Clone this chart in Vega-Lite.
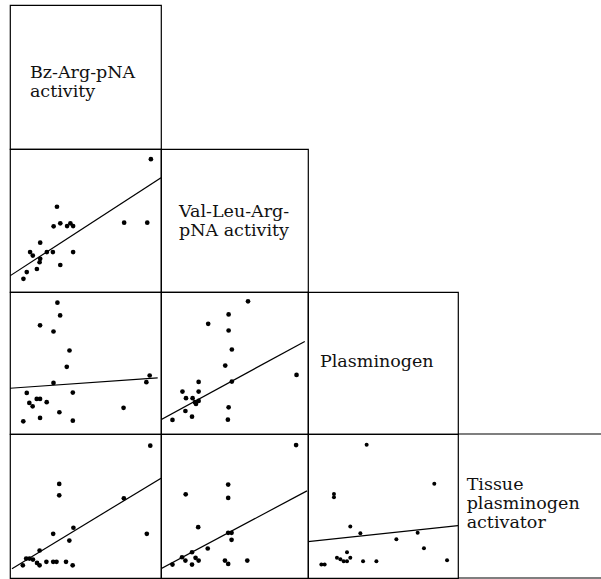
{
  "$schema": "https://vega.github.io/schema/vega-lite/v6.json",
  "padding": {"left": 9, "top": 4, "right": 0, "bottom": 0},
  "background": "white",
  "columns": 4,
  "spacing": 0,
  "bounds": "flush",
  "align": "each",
  "config": {
    "view": {"stroke": "black", "strokeWidth": 1.2},
    "circle": {"size": 22, "color": "black", "opacity": 1},
    "text": {"font": "DejaVu Serif", "fontSize": 17.5, "lineHeight": 19, "align": "left", "baseline": "alphabetic", "color": "#111", "lineBreak": "\n"}
  },
  "datasets": {
    "cell": [{}],
    "points": [
      {"panel": "bz_val", "x": 93.3, "y": 92.9},
      {"panel": "bz_val", "x": 31.1, "y": 59.6},
      {"panel": "bz_val", "x": 28.9, "y": 45.9},
      {"panel": "bz_val", "x": 33.3, "y": 48.0},
      {"panel": "bz_val", "x": 37.8, "y": 46.1},
      {"panel": "bz_val", "x": 40.0, "y": 48.0},
      {"panel": "bz_val", "x": 41.8, "y": 46.1},
      {"panel": "bz_val", "x": 75.6, "y": 48.5},
      {"panel": "bz_val", "x": 90.9, "y": 48.5},
      {"panel": "bz_val", "x": 20.0, "y": 34.5},
      {"panel": "bz_val", "x": 13.3, "y": 27.9},
      {"panel": "bz_val", "x": 15.1, "y": 25.5},
      {"panel": "bz_val", "x": 24.4, "y": 27.9},
      {"panel": "bz_val", "x": 28.4, "y": 27.9},
      {"panel": "bz_val", "x": 41.8, "y": 27.9},
      {"panel": "bz_val", "x": 20.0, "y": 23.2},
      {"panel": "bz_val", "x": 19.6, "y": 20.8},
      {"panel": "bz_val", "x": 33.3, "y": 18.9},
      {"panel": "bz_val", "x": 17.8, "y": 16.1},
      {"panel": "bz_val", "x": 11.1, "y": 13.9},
      {"panel": "bz_val", "x": 8.9, "y": 9.2},

      {"panel": "bz_plg", "x": 31.4, "y": 92.5},
      {"panel": "bz_plg", "x": 33.2, "y": 83.5},
      {"panel": "bz_plg", "x": 19.9, "y": 76.5},
      {"panel": "bz_plg", "x": 28.8, "y": 72.2},
      {"panel": "bz_plg", "x": 39.4, "y": 58.8},
      {"panel": "bz_plg", "x": 37.6, "y": 47.3},
      {"panel": "bz_plg", "x": 28.8, "y": 36.0},
      {"panel": "bz_plg", "x": 92.5, "y": 41.2},
      {"panel": "bz_plg", "x": 90.3, "y": 36.5},
      {"panel": "bz_plg", "x": 11.1, "y": 28.9},
      {"panel": "bz_plg", "x": 41.6, "y": 29.2},
      {"panel": "bz_plg", "x": 17.7, "y": 24.7},
      {"panel": "bz_plg", "x": 19.9, "y": 24.7},
      {"panel": "bz_plg", "x": 12.8, "y": 21.9},
      {"panel": "bz_plg", "x": 15.0, "y": 19.5},
      {"panel": "bz_plg", "x": 24.3, "y": 22.4},
      {"panel": "bz_plg", "x": 75.2, "y": 18.4},
      {"panel": "bz_plg", "x": 32.7, "y": 15.3},
      {"panel": "bz_plg", "x": 19.9, "y": 11.3},
      {"panel": "bz_plg", "x": 8.8, "y": 8.9},
      {"panel": "bz_plg", "x": 41.6, "y": 9.4},

      {"panel": "val_plg", "x": 59.2, "y": 93.4},
      {"panel": "val_plg", "x": 46.0, "y": 84.2},
      {"panel": "val_plg", "x": 32.1, "y": 77.6},
      {"panel": "val_plg", "x": 46.0, "y": 72.9},
      {"panel": "val_plg", "x": 48.2, "y": 59.5},
      {"panel": "val_plg", "x": 43.7, "y": 48.2},
      {"panel": "val_plg", "x": 48.2, "y": 36.9},
      {"panel": "val_plg", "x": 92.2, "y": 41.6},
      {"panel": "val_plg", "x": 25.6, "y": 36.7},
      {"panel": "val_plg", "x": 14.6, "y": 29.9},
      {"panel": "val_plg", "x": 25.6, "y": 29.9},
      {"panel": "val_plg", "x": 17.0, "y": 25.2},
      {"panel": "val_plg", "x": 21.5, "y": 25.2},
      {"panel": "val_plg", "x": 25.6, "y": 23.3},
      {"panel": "val_plg", "x": 23.8, "y": 21.2},
      {"panel": "val_plg", "x": 23.1, "y": 22.4},
      {"panel": "val_plg", "x": 16.6, "y": 16.2},
      {"panel": "val_plg", "x": 46.0, "y": 18.8},
      {"panel": "val_plg", "x": 21.1, "y": 12.2},
      {"panel": "val_plg", "x": 7.8, "y": 9.9},
      {"panel": "val_plg", "x": 45.5, "y": 10.1},

      {"panel": "bz_tpa", "x": 92.9, "y": 91.9},
      {"panel": "bz_tpa", "x": 32.6, "y": 65.3},
      {"panel": "bz_tpa", "x": 32.6, "y": 57.4},
      {"panel": "bz_tpa", "x": 75.4, "y": 55.3},
      {"panel": "bz_tpa", "x": 28.6, "y": 30.7},
      {"panel": "bz_tpa", "x": 42.0, "y": 34.9},
      {"panel": "bz_tpa", "x": 39.3, "y": 26.0},
      {"panel": "bz_tpa", "x": 90.6, "y": 30.7},
      {"panel": "bz_tpa", "x": 19.6, "y": 19.1},
      {"panel": "bz_tpa", "x": 10.7, "y": 13.5},
      {"panel": "bz_tpa", "x": 12.9, "y": 13.5},
      {"panel": "bz_tpa", "x": 15.2, "y": 12.8},
      {"panel": "bz_tpa", "x": 17.9, "y": 10.5},
      {"panel": "bz_tpa", "x": 19.6, "y": 8.8},
      {"panel": "bz_tpa", "x": 8.5, "y": 8.8},
      {"panel": "bz_tpa", "x": 24.1, "y": 11.2},
      {"panel": "bz_tpa", "x": 28.6, "y": 11.2},
      {"panel": "bz_tpa", "x": 30.8, "y": 11.2},
      {"panel": "bz_tpa", "x": 37.1, "y": 11.2},
      {"panel": "bz_tpa", "x": 41.5, "y": 8.8},

      {"panel": "val_tpa", "x": 91.9, "y": 92.3},
      {"panel": "val_tpa", "x": 45.7, "y": 64.9},
      {"panel": "val_tpa", "x": 45.7, "y": 55.6},
      {"panel": "val_tpa", "x": 16.8, "y": 58.1},
      {"panel": "val_tpa", "x": 25.3, "y": 35.3},
      {"panel": "val_tpa", "x": 45.7, "y": 31.4},
      {"panel": "val_tpa", "x": 48.0, "y": 31.4},
      {"panel": "val_tpa", "x": 48.0, "y": 26.5},
      {"panel": "val_tpa", "x": 31.8, "y": 20.5},
      {"panel": "val_tpa", "x": 21.1, "y": 17.9},
      {"panel": "val_tpa", "x": 14.3, "y": 14.4},
      {"panel": "val_tpa", "x": 16.6, "y": 12.1},
      {"panel": "val_tpa", "x": 23.5, "y": 14.0},
      {"panel": "val_tpa", "x": 25.6, "y": 12.1},
      {"panel": "val_tpa", "x": 21.1, "y": 9.3},
      {"panel": "val_tpa", "x": 7.8, "y": 9.3},
      {"panel": "val_tpa", "x": 43.5, "y": 12.1},
      {"panel": "val_tpa", "x": 45.7, "y": 9.8},
      {"panel": "val_tpa", "x": 58.7, "y": 12.1},

      {"panel": "plg_tpa", "x": 39.1, "y": 92.5},
      {"panel": "plg_tpa", "x": 84.2, "y": 65.4},
      {"panel": "plg_tpa", "x": 17.3, "y": 58.4},
      {"panel": "plg_tpa", "x": 17.3, "y": 56.1},
      {"panel": "plg_tpa", "x": 28.2, "y": 35.7},
      {"panel": "plg_tpa", "x": 34.9, "y": 31.1},
      {"panel": "plg_tpa", "x": 73.1, "y": 31.5},
      {"panel": "plg_tpa", "x": 58.9, "y": 26.9},
      {"panel": "plg_tpa", "x": 77.3, "y": 20.6},
      {"panel": "plg_tpa", "x": 26.0, "y": 17.8},
      {"panel": "plg_tpa", "x": 19.3, "y": 14.0},
      {"panel": "plg_tpa", "x": 21.6, "y": 13.1},
      {"panel": "plg_tpa", "x": 26.0, "y": 11.7},
      {"panel": "plg_tpa", "x": 28.2, "y": 14.0},
      {"panel": "plg_tpa", "x": 23.8, "y": 11.7},
      {"panel": "plg_tpa", "x": 36.7, "y": 11.7},
      {"panel": "plg_tpa", "x": 45.6, "y": 11.7},
      {"panel": "plg_tpa", "x": 92.7, "y": 12.4},
      {"panel": "plg_tpa", "x": 8.9, "y": 9.3},
      {"panel": "plg_tpa", "x": 11.1, "y": 9.3}
    ],
    "fits": [
      {"panel": "bz_val", "x": 0, "y": 11.3},
      {"panel": "bz_val", "x": 100, "y": 79.9},
      {"panel": "bz_plg", "x": 0, "y": 32.2},
      {"panel": "bz_plg", "x": 97.8, "y": 39.5},
      {"panel": "val_plg", "x": 0, "y": 10.1},
      {"panel": "val_plg", "x": 97.8, "y": 65.2},
      {"panel": "bz_tpa", "x": 1.3, "y": 6.5},
      {"panel": "bz_tpa", "x": 100, "y": 69.3},
      {"panel": "val_tpa", "x": 0, "y": 6.5},
      {"panel": "val_tpa", "x": 99.3, "y": 60.5},
      {"panel": "plg_tpa", "x": 0, "y": 25.2},
      {"panel": "plg_tpa", "x": 100, "y": 36.4}
    ]
  },
  "concat": [
    {
      "width": 151, "height": 144,
      "data": {"name": "cell"},
      "mark": {"type": "text", "text": "Bz-Arg-pNA\nactivity"},
      "encoding": {
        "x": {"datum": 13.2, "type": "quantitative", "scale": {"domain": [0, 100]}, "axis": null},
        "y": {"datum": 49.3, "type": "quantitative", "scale": {"domain": [0, 100]}, "axis": null}
      }
    },
    {"width": 147, "height": 144, "view": {"stroke": null}, "data": {"name": "cell"}, "mark": {"type": "text", "text": ""}},
    {"width": 150, "height": 144, "view": {"stroke": null}, "data": {"name": "cell"}, "mark": {"type": "text", "text": ""}},
    {"width": 144, "height": 144, "view": {"stroke": null}, "data": {"name": "cell"}, "mark": {"type": "text", "text": ""}},

    {
      "width": 151, "height": 143,
      "encoding": {
        "x": {"field": "x", "type": "quantitative", "scale": {"domain": [0, 100]}, "axis": null},
        "y": {"field": "y", "type": "quantitative", "scale": {"domain": [0, 100]}, "axis": null}
      },
      "layer": [
        {"data": {"name": "points"}, "transform": [{"filter": {"field": "panel", "equal": "bz_val"}}], "mark": "circle"},
        {"data": {"name": "fits"}, "transform": [{"filter": {"field": "panel", "equal": "bz_val"}}],
         "mark": {"type": "line", "color": "black", "strokeWidth": 1.2, "clip": true}}
      ]
    },
    {
      "width": 147, "height": 143,
      "data": {"name": "cell"},
      "mark": {"type": "text", "text": "Val-Leu-Arg-\npNA activity"},
      "encoding": {
        "x": {"datum": 12.2, "type": "quantitative", "scale": {"domain": [0, 100]}, "axis": null},
        "y": {"datum": 52.4, "type": "quantitative", "scale": {"domain": [0, 100]}, "axis": null}
      }
    },
    {"width": 150, "height": 143, "view": {"stroke": null}, "data": {"name": "cell"}, "mark": {"type": "text", "text": ""}},
    {"width": 144, "height": 143, "view": {"stroke": null}, "data": {"name": "cell"}, "mark": {"type": "text", "text": ""}},

    {
      "width": 151, "height": 142,
      "encoding": {
        "x": {"field": "x", "type": "quantitative", "scale": {"domain": [0, 100]}, "axis": null},
        "y": {"field": "y", "type": "quantitative", "scale": {"domain": [0, 100]}, "axis": null}
      },
      "layer": [
        {"data": {"name": "points"}, "transform": [{"filter": {"field": "panel", "equal": "bz_plg"}}], "mark": "circle"},
        {"data": {"name": "fits"}, "transform": [{"filter": {"field": "panel", "equal": "bz_plg"}}],
         "mark": {"type": "line", "color": "black", "strokeWidth": 1.2, "clip": true}}
      ]
    },
    {
      "width": 147, "height": 142,
      "encoding": {
        "x": {"field": "x", "type": "quantitative", "scale": {"domain": [0, 100]}, "axis": null},
        "y": {"field": "y", "type": "quantitative", "scale": {"domain": [0, 100]}, "axis": null}
      },
      "layer": [
        {"data": {"name": "points"}, "transform": [{"filter": {"field": "panel", "equal": "val_plg"}}], "mark": "circle"},
        {"data": {"name": "fits"}, "transform": [{"filter": {"field": "panel", "equal": "val_plg"}}],
         "mark": {"type": "line", "color": "black", "strokeWidth": 1.2, "clip": true}}
      ]
    },
    {
      "width": 150, "height": 142,
      "data": {"name": "cell"},
      "mark": {"type": "text", "text": "Plasminogen"},
      "encoding": {
        "x": {"datum": 8, "type": "quantitative", "scale": {"domain": [0, 100]}, "axis": null},
        "y": {"datum": 47.2, "type": "quantitative", "scale": {"domain": [0, 100]}, "axis": null}
      }
    },
    {"width": 144, "height": 142, "view": {"stroke": null}, "data": {"name": "cell"}, "mark": {"type": "text", "text": ""}},

    {
      "width": 151, "height": 144,
      "encoding": {
        "x": {"field": "x", "type": "quantitative", "scale": {"domain": [0, 100]}, "axis": null},
        "y": {"field": "y", "type": "quantitative", "scale": {"domain": [0, 100]}, "axis": null}
      },
      "layer": [
        {"data": {"name": "points"}, "transform": [{"filter": {"field": "panel", "equal": "bz_tpa"}}], "mark": "circle"},
        {"data": {"name": "fits"}, "transform": [{"filter": {"field": "panel", "equal": "bz_tpa"}}],
         "mark": {"type": "line", "color": "black", "strokeWidth": 1.2, "clip": true}}
      ]
    },
    {
      "width": 147, "height": 144,
      "encoding": {
        "x": {"field": "x", "type": "quantitative", "scale": {"domain": [0, 100]}, "axis": null},
        "y": {"field": "y", "type": "quantitative", "scale": {"domain": [0, 100]}, "axis": null}
      },
      "layer": [
        {"data": {"name": "points"}, "transform": [{"filter": {"field": "panel", "equal": "val_tpa"}}], "mark": "circle"},
        {"data": {"name": "fits"}, "transform": [{"filter": {"field": "panel", "equal": "val_tpa"}}],
         "mark": {"type": "line", "color": "black", "strokeWidth": 1.2, "clip": true}}
      ]
    },
    {
      "width": 150, "height": 144,
      "encoding": {
        "x": {"field": "x", "type": "quantitative", "scale": {"domain": [0, 100]}, "axis": null},
        "y": {"field": "y", "type": "quantitative", "scale": {"domain": [0, 100]}, "axis": null}
      },
      "layer": [
        {"data": {"name": "points"}, "transform": [{"filter": {"field": "panel", "equal": "plg_tpa"}}],
         "mark": {"type": "circle", "size": 16}},
        {"data": {"name": "fits"}, "transform": [{"filter": {"field": "panel", "equal": "plg_tpa"}}],
         "mark": {"type": "line", "color": "black", "strokeWidth": 1.2, "clip": true}}
      ]
    },
    {
      "width": 144, "height": 144,
      "view": {"stroke": null},
      "data": {"name": "cell"},
      "layer": [
        {
          "mark": {"type": "text", "text": "Tissue\nplasminogen\nactivator"},
          "encoding": {
            "x": {"datum": 6, "type": "quantitative", "scale": {"domain": [0, 100]}, "axis": null},
            "y": {"datum": 61.1, "type": "quantitative", "scale": {"domain": [0, 100]}, "axis": null}
          }
        },
        {
          "mark": {"type": "rule", "color": "black", "strokeWidth": 1.2},
          "encoding": {"y": {"datum": 100, "type": "quantitative", "scale": {"domain": [0, 100]}, "axis": null}}
        },
        {
          "mark": {"type": "rule", "color": "black", "strokeWidth": 1.2},
          "encoding": {"y": {"datum": 0, "type": "quantitative", "scale": {"domain": [0, 100]}, "axis": null}}
        }
      ]
    }
  ]
}
